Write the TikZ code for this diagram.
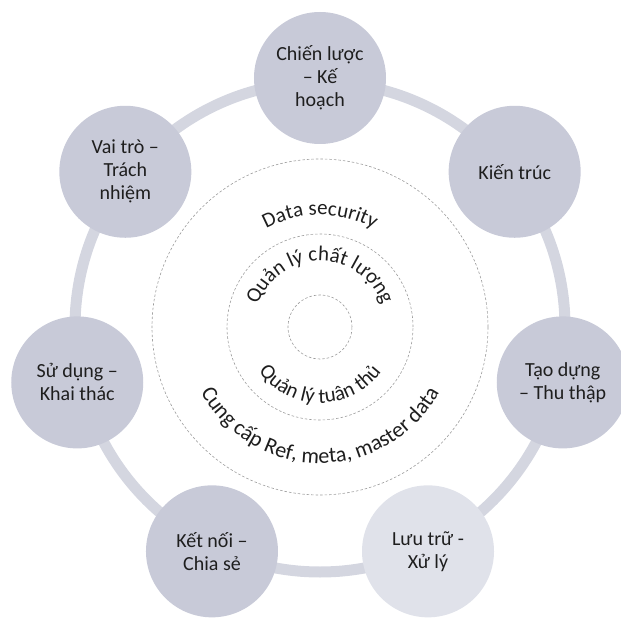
\documentclass[tikz,border=0pt]{standalone}
\usepackage{fontspec}
\setmainfont{Carlito}
\usetikzlibrary{decorations.text}

\definecolor{satfill}{HTML}{C8CAD8}
\definecolor{satpale}{HTML}{E0E2EA}
\definecolor{ringband}{HTML}{D4D6E0}
\definecolor{dashgray}{HTML}{9C9C9C}
\definecolor{inktext}{HTML}{1E1E1E}

\newcommand{\curvefont}{\fontsize{21}{21}\selectfont}
\newcommand{\bigcurvefont}{\fontsize{22}{22}\selectfont}

\tikzset{
  satcircle/.style={circle, fill=satfill, minimum size=132pt, inner sep=0pt,
    align=center, text=inktext, font=\fontsize{20}{23}\selectfont},
  guide/.style={dashgray, line width=0.6pt, dash pattern=on 2.5pt off 2pt},
  curvetext/.style={decorate, decoration={text along path, text align=center,
    text color=inktext}},
}

\begin{document}
\begin{tikzpicture}[x=1pt,y=1pt]
\useasboundingbox (-320,-291) rectangle (301,327);
\clip (-320,-291) rectangle (301,327);
\coordinate (hub) at (0,0);

% band joining the seven steps
\draw[ringband, line width=11pt] (hub) circle (245);

% inner rings
\draw[guide] (hub) circle (168);
\draw[guide] (hub) circle (93);
\draw[guide] (hub) circle (32);

% seven steps
\node[satcircle] (chienluoc) at (90:249) {Chiến lược\\– Kế\\hoạch};
\node[satcircle] (kientruc) at (38.57:249) {Kiến trúc};
\node[satcircle] (taodung) at (-12.86:249) {Tạo dựng\\– Thu thập};
\node[satcircle, fill=satpale] (luutru) at (-64.29:249) {Lưu trữ -\\Xử lý};
\node[satcircle] (ketnoi) at (-115.71:249) {Kết nối –\\Chia sẻ};
\node[satcircle] (sudung) at (-167.14:249) {Sử dụng –\\Khai thác};
\node[satcircle] (vaitro) at (141.43:249) {Vai trò –\\Trách\\nhiệm};

% curved labels
\path[curvetext, decoration={text={|\curvefont|Data security}}]
  ([shift={(125:112)}]hub) arc[start angle=125, end angle=55, radius=112];
\path[curvetext, decoration={text={|\curvefont|Quản lý chất lượng}}]
  ([shift={(175:66)}]hub) arc[start angle=175, end angle=5, radius=66];
\path[curvetext, decoration={text={|\curvefont|Quản lý tuân thủ}}]
  ([shift={(185:76)}]hub) arc[start angle=185, end angle=355, radius=76];
\path[curvetext, decoration={text={|\bigcurvefont|Cung cấp Ref, meta, master data}}]
  ([shift={(190:136)}]hub) arc[start angle=190, end angle=350, radius=136];
\end{tikzpicture}
\end{document}
